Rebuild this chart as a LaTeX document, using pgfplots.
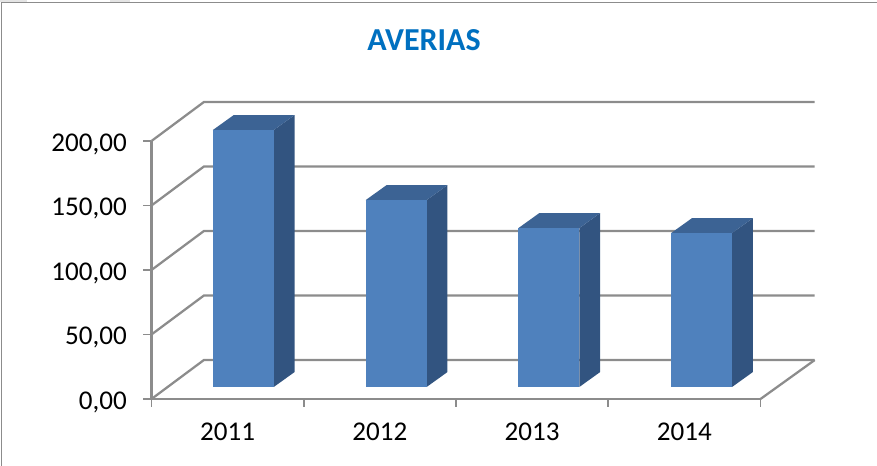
\documentclass[border=0pt]{standalone}
\usepackage{fontspec}
\setmainfont{Carlito}
\usepackage{pgfplots}
\pgfplotsset{compat=1.18}
\definecolor{gridc}{HTML}{8C8C8C}
\definecolor{barfront}{HTML}{4F81BD}
\definecolor{barside}{HTML}{325480}
\definecolor{bartop}{HTML}{3C6394}
\definecolor{titlec}{HTML}{0070C0}
\definecolor{tabc}{HTML}{E4E4E4}
\begin{document}
\begin{tikzpicture}[x=0.75pt,y=0.75pt]
\useasboundingbox (-151.5,-67) rectangle (725.5,399);
\fill[tabc] (-151.5,397) rectangle (-124.5,399);
\fill[tabc] (-41.5,397) rectangle (-21.5,399);
\draw[gridc,line width=1.3pt] (-150,-67) -- (-150,396.5) -- (725.5,396.5);
\begin{axis}[
  at={(0,0)}, anchor=south west,
  scale only axis, width=456.75pt, height=193.5pt,
  xmin=0, xmax=4, ymin=0, ymax=200,
  clip=false,
  axis x line=bottom, axis y line=left,
  axis line style={-, gridc, line width=1.7pt},
  tick align=outside,
  major tick length=6pt, minor tick length=6pt,
  xtick={0.5,1.5,2.5,3.5},
  xticklabels={2011,2012,2013,2014},
  minor xtick={0,1,2,3,4},
  x tick style={draw=none},
  minor x tick style={draw=gridc, line width=1.2pt},
  ytick={0,50,100,150,200},
  yticklabels={{0,00},{50,00},{100,00},{150,00},{200,00}},
  y tick style={draw=gridc, line width=1.2pt},
  tick label style={font=\fontsize{20.3}{22}\selectfont, text=black},
  xticklabel style={yshift=-8.5pt},
  yticklabel style={xshift=-9pt, yshift=-2.5pt},
  title={\textbf{AVERIAS}},
  title style={at={(axis cs:1.79,272.3)}, anchor=center, font=\fontsize{24}{28}\selectfont, text=titlec},
]
% back wall gridlines
\addplot[gridc, line width=1.7pt] coordinates {(0,0) (0.344,30.2) (4.356,30.2)};
\addplot[gridc, line width=1.7pt] coordinates {(0,50) (0.344,80.2) (4.356,80.2)};
\addplot[gridc, line width=1.7pt] coordinates {(0,100) (0.344,130.2) (4.356,130.2)};
\addplot[gridc, line width=1.7pt] coordinates {(0,150) (0.344,180.2) (4.356,180.2)};
\addplot[gridc, line width=1.7pt] coordinates {(0,200) (0.344,230.2) (4.356,230.2)};
\addplot[gridc, line width=1.7pt] coordinates {(4,0) (4.356,30.2)};
% 2011
\addplot[fill=barside, draw=none] coordinates {(0.803,9.3) (0.94,20.9) (0.94,220.1) (0.803,208.5)} --cycle;
\addplot[fill=bartop, draw=none] coordinates {(0.403,208.5) (0.803,208.5) (0.94,220.1) (0.54,220.1)} --cycle;
\addplot[fill=barfront, draw=none] coordinates {(0.403,9.3) (0.803,9.3) (0.803,208.5) (0.403,208.5)} --cycle;
% 2012
\addplot[fill=barside, draw=none] coordinates {(1.807,9.3) (1.944,20.9) (1.944,165.8) (1.807,154.2)} --cycle;
\addplot[fill=bartop, draw=none] coordinates {(1.407,154.2) (1.807,154.2) (1.944,165.8) (1.544,165.8)} --cycle;
\addplot[fill=barfront, draw=none] coordinates {(1.407,9.3) (1.807,9.3) (1.807,154.2) (1.407,154.2)} --cycle;
% 2013
\addplot[fill=barside, draw=none] coordinates {(2.81,9.3) (2.947,20.9) (2.947,144.1) (2.81,132.5)} --cycle;
\addplot[fill=bartop, draw=none] coordinates {(2.41,132.5) (2.81,132.5) (2.947,144.1) (2.547,144.1)} --cycle;
\addplot[fill=barfront, draw=none] coordinates {(2.41,9.3) (2.81,9.3) (2.81,132.5) (2.41,132.5)} --cycle;
% 2014
\addplot[fill=barside, draw=none] coordinates {(3.813,9.3) (3.95,20.9) (3.95,140.2) (3.813,128.6)} --cycle;
\addplot[fill=bartop, draw=none] coordinates {(3.413,128.6) (3.813,128.6) (3.95,140.2) (3.55,140.2)} --cycle;
\addplot[fill=barfront, draw=none] coordinates {(3.413,9.3) (3.813,9.3) (3.813,128.6) (3.413,128.6)} --cycle;
\end{axis}
\end{tikzpicture}
\end{document}
